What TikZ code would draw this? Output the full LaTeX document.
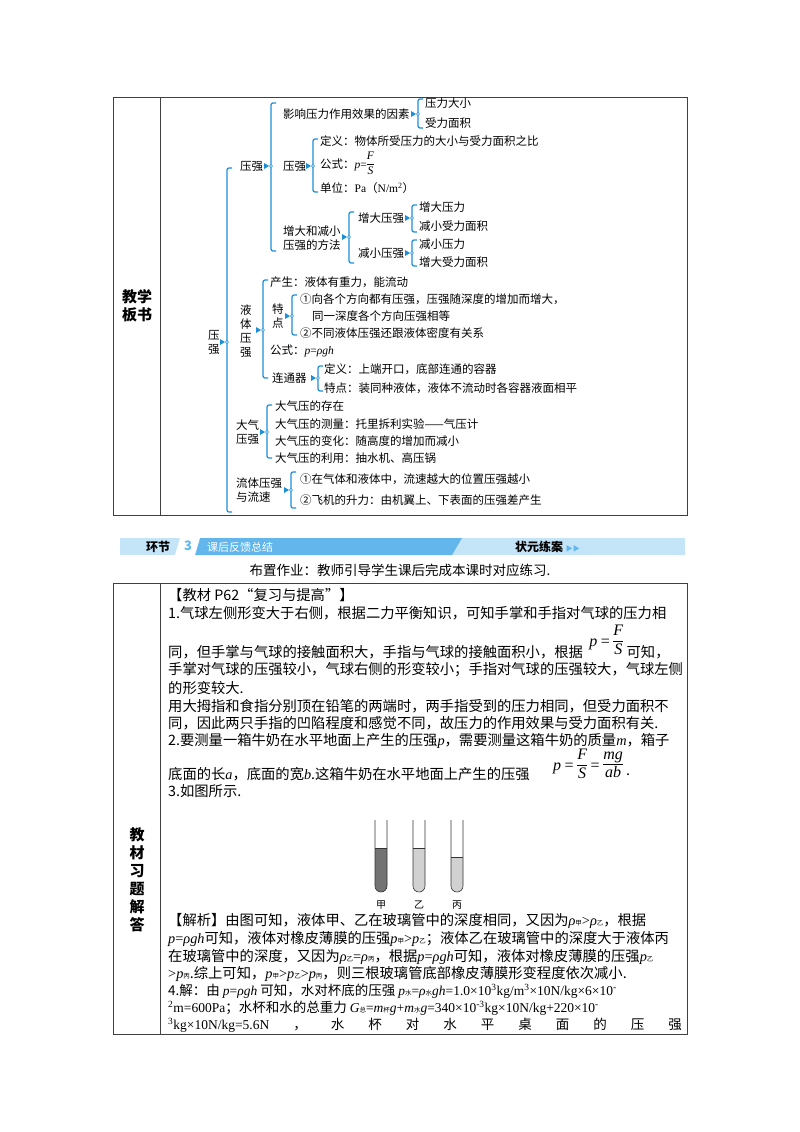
\documentclass[tikz,border=0pt]{standalone}
\usepackage{fontspec}
\setmainfont{Noto Sans CJK SC}
\newfontfamily\latfont{Liberation Serif}
\usetikzlibrary{positioning}
\definecolor{mmblue}{HTML}{1B8FD8}
\definecolor{bandlight}{HTML}{C4E4F8}
\definecolor{banddark}{HTML}{62B6EC}
\newcommand\mmbrace[4]{% x, top, bottom, marker y
  \draw[mmline] (#1+5,#2) -- (#1,#2) -- (#1,#3) -- (#1+5,#3);
  \fill[mmblue] (#1-7,#4-3) -- (#1-2,#4) -- (#1-7,#4+3) -- cycle;
  \draw[mmblue, fill=white, line width=0.5pt] (#1,#4) circle (1.5);
}
\newcommand\xsub[1]{{\fontsize{6.5}{6.5}\selectfont #1}}
\newcommand\mv[1]{{\latfont\itshape #1}}
\newcommand\lt[1]{{\latfont #1}}
\newcommand\xfrac[2]{{\renewcommand\arraystretch{0.8}\setlength\tabcolsep{0pt}\begin{tabular}[c]{c}#1\\[1pt]\hline\rule{0pt}{0.85em}#2\end{tabular}}}
\begin{document}
\begin{tikzpicture}[x=1pt, y=-1pt,
    mmline/.style={mmblue, line width=1.2pt, rounded corners=2pt},
    mm/.style={anchor=west, inner sep=0pt, font=\fontsize{11.5}{14}\selectfont},
    body/.style={anchor=west, inner sep=0pt, font=\fontsize{14.3}{16}\selectfont},
    head/.style={align=center, font=\fontsize{15}{18}\selectfont\bfseries},
    frame/.style={draw=black!75, line width=0.8pt},
]
\useasboundingbox (0,0) rectangle (800,1132);

% board table
\draw[frame] (113,97) rectangle (687,515);
\draw[frame] (160,97) -- (160,515);
\node[head] (boardhead) at (137,306) {教学\\板书};

% mind map: top level
\node[mm, align=center] (root) at (208,342) {压\\强};
\mmbrace{227}{168}{512}{342}

% branch 1
\node[mm] (pressure) at (240,166) {压强};
\mmbrace{271}{103}{251}{166}
\node[mm] (factor) at (283,114) {影响压力作用效果的因素};
\mmbrace{418}{99}{128}{114}
\node[mm] (fa) at (425,103) {压力大小};
\node[mm] (fb) at (425,123) {受力面积};
\node[mm] (pdef) at (283,166) {压强};
\mmbrace{313}{139}{192}{166}
\node[mm] (defn) at (320,141) {定义：物体所受压力的大小与受力面积之比};
\node[mm] (formula) at (320,165) {公式：\mv{p}\lt{=}\xfrac{\mv{F}}{\mv{S}}};
\node[mm] (unit) at (320,188) {单位：\lt{Pa}（\lt{N/m\textsuperscript{2}}）};
\node[mm, align=left] (method) at (283,238) {增大和减小\\压强的方法};
\mmbrace{349}{212}{263}{237}
\node[mm] (inc) at (358,218) {增大压强};
\mmbrace{412}{205}{232}{218}
\node[mm] (inca) at (419,207) {增大压力};
\node[mm] (incb) at (419,226) {减小受力面积};
\node[mm] (dec) at (358,253) {减小压强};
\mmbrace{412}{240}{266}{253}
\node[mm] (deca) at (419,244) {减小压力};
\node[mm] (decb) at (419,262) {增大受力面积};

% branch 2
\node[mm, align=center] (liquid) at (240,331) {液\\体\\压\\强};
\mmbrace{263}{280}{378}{330}
\node[mm] (origin) at (270,282) {产生：液体有重力，能流动};
\node[mm, align=center] (feature) at (272,316) {特\\点};
\mmbrace{292}{295}{335}{316}
\node[mm] (feat1) at (300,299) {①向各个方向都有压强，压强随深度的增加而增大，};
\node[mm] (feat1b) at (312,316) {同一深度各个方向压强相等};
\node[mm] (feat2) at (300,333) {②不同液体压强还跟液体密度有关系};
\node[mm] (lformula) at (270,351) {公式：\mv{p}\lt{=}\mv{ρgh}};
\node[mm] (vessel) at (272,378) {连通器};
\mmbrace{318}{366}{391}{378}
\node[mm] (vdef) at (324,369) {定义：上端开口，底部连通的容器};
\node[mm] (vfeat) at (324,388) {特点：装同种液体，液体不流动时各容器液面相平};

% branch 3
\node[mm, align=left] (atmo) at (236,432) {大气\\压强};
\mmbrace{267}{405}{458}{432}
\node[mm] (at1) at (275,406) {大气压的存在};
\node[mm] (at2) at (275,424) {大气压的测量：托里拆利实验——气压计};
\node[mm] (at3) at (275,441) {大气压的变化：随高度的增加而减小};
\node[mm] (at4) at (275,458) {大气压的利用：抽水机、高压锅};

% branch 4
\node[mm, align=left] (fluid) at (236,490) {流体压强\\与流速};
\mmbrace{291}{472}{508}{490}
\node[mm] (fl1) at (300,479) {①在气体和液体中，流速越大的位置压强越小};
\node[mm] (fl2) at (300,500) {②飞机的升力：由机翼上、下表面的压强差产生};

% banner
\fill[bandlight] (120,538) rectangle (685,555);
\fill[banddark] (195,538) -- (462,538) -- (452,555) -- (195,555) -- cycle;
\fill[white] (180,538) -- (200,538) -- (195,555) -- (175,555) -- cycle;
\node[inner sep=0pt, font=\fontsize{12}{12}\selectfont\bfseries] (link) at (158,547) {环节};
\node[inner sep=0pt, text=banddark, font=\fontsize{13}{13}\selectfont\bfseries\itshape] (linknum) at (188,546) {3};
\node[anchor=west, inner sep=0pt, text=white, font=\fontsize{11}{11}\selectfont] (linktitle) at (207,547) {课后反馈总结};
\node[anchor=west, inner sep=0pt, font=\fontsize{12}{12}\selectfont\bfseries] (champ) at (515,547) {状元练案 \textcolor{banddark}{\fontsize{7}{7}\selectfont▶▶}};
\node[inner sep=0pt, font=\fontsize{13.5}{15}\selectfont] (homework) at (400,570) {布置作业：教师引导学生课后完成本课时对应练习.};

% exercise table
\draw[frame] (113,583) -- (687,583) -- (687,1034) -- (113,1034) -- cycle;
\draw[frame] (160,583) -- (160,1034);
\node[head] (exhead) at (137,880) {教\\材\\习\\题\\解\\答};

\node[body] (l1) at (168,595) {【教材 P62“复习与提高”】};
\node[body] (l2) at (168,613) {1.气球左侧形变大于右侧，根据二力平衡知识，可知手掌和手指对气球的压力相};
\node[body] (l3) at (168,652) {同，但手掌与气球的接触面积大，手指与气球的接触面积小，根据};
\node[inner sep=0pt, font=\fontsize{16}{16}\selectfont, right=6pt of l3, yshift=10pt] (f1) {\mv{p} \lt{=} \xfrac{\mv{F}}{\mv{S}}};
\node[body] (l3b) at ([xshift=3pt]f1.east |- l3.west) {可知，};
\node[body] (l4) at (168,670) {手掌对气球的压强较小，气球右侧的形变较小；手指对气球的压强较大，气球左侧};
\node[body] (l5) at (168,688) {的形变较大.};
\node[body] (l6) at (168,706) {用大拇指和食指分别顶在铅笔的两端时，两手指受到的压力相同，但受力面积不};
\node[body] (l7) at (168,723) {同，因此两只手指的凹陷程度和感觉不同，故压力的作用效果与受力面积有关.};
\node[body] (l8) at (168,741) {2.要测量一箱牛奶在水平地面上产生的压强\mv{p}，需要测量这箱牛奶的质量\mv{m}，箱子};
\node[body] (l9) at (168,774) {底面的长\mv{a}，底面的宽\mv{b}.这箱牛奶在水平地面上产生的压强};
\node[inner sep=0pt, font=\fontsize{16}{16}\selectfont] (f2) at (588,766) {\mv{p} \lt{=} \xfrac{\mv{F}}{\mv{S}} \lt{=} \xfrac{\mv{mg}}{\mv{ab}}};
\node[body] (l9b) at (626,775) {.};
\node[body] (l10) at (168,791) {3.如图所示.};

% tubes
\foreach \cx/\lvl/\shade/\lab in {381/848/black!55/甲, 419/848/black!18/乙, 457/857/black!18/丙}{
  \fill[\shade] (\cx-6,\lvl) -- (\cx-6,886) arc (180:0:6) -- (\cx+6,\lvl) -- cycle;
  \draw[black!80, line width=0.6pt] (\cx-6,820) -- (\cx-6,886) arc (180:0:6) -- (\cx+6,820);
  \draw[black!80, line width=0.5pt] (\cx-6,\lvl) -- (\cx+6,\lvl);
  \node[font=\fontsize{10}{10}\selectfont, inner sep=0pt] at (\cx,905) {\lab};
}

\node[body] (l11) at (168,921) {【解析】由图可知，液体甲、乙在玻璃管中的深度相同，又因为\mv{ρ}\xsub{甲}\lt{>}\mv{ρ}\xsub{乙}，根据};
\node[body] (l12) at (168,939) {\mv{p}\lt{=}\mv{ρgh}可知，液体对橡皮薄膜的压强\mv{p}\xsub{甲}\lt{>}\mv{p}\xsub{乙}；液体乙在玻璃管中的深度大于液体丙};
\node[body] (l13) at (168,957) {在玻璃管中的深度，又因为\mv{ρ}\xsub{乙}\lt{=}\mv{ρ}\xsub{丙}，根据\mv{p}\lt{=}\mv{ρgh}可知，液体对橡皮薄膜的压强\mv{p}\xsub{乙}};
\node[body] (l14) at (168,974) {\lt{>}\mv{p}\xsub{丙}.综上可知，\mv{p}\xsub{甲}\lt{>}\mv{p}\xsub{乙}\lt{>}\mv{p}\xsub{丙}，则三根玻璃管底部橡皮薄膜形变程度依次减小.};
\node[body, font=\fontsize{13.5}{16}\selectfont] (l15) at (168,991) {4.解：由 \mv{p}\lt{=}\mv{ρgh} 可知，水对杯底的压强 \mv{p}\xsub{水}\lt{=}\mv{ρ}\xsub{水}\mv{gh}\lt{=1.0×10\textsuperscript{3}kg/m\textsuperscript{3}×10N/kg×6×10\textsuperscript{-}}};
\node[body, font=\fontsize{13.5}{16}\selectfont] (l16) at (168,1008) {\lt{\textsuperscript{2}m=600Pa}；水杯和水的总重力 \mv{G}\xsub{总}\lt{=}\mv{m}\xsub{杯}\mv{g}\lt{+}\mv{m}\xsub{水}\mv{g}\lt{=340×10\textsuperscript{-3}kg×10N/kg+220×10\textsuperscript{-}}};
\node[body, font=\fontsize{13.5}{16}\selectfont] (l17) at (168,1025) {\lt{\textsuperscript{3}kg×10N/kg=5.6N}\hspace{24pt}，\hspace{24pt}水\hspace{24pt}杯\hspace{24pt}对\hspace{24pt}水\hspace{24pt}平\hspace{24pt}桌\hspace{24pt}面\hspace{24pt}的\hspace{24pt}压\hspace{24pt}强};
\end{tikzpicture}
\end{document}
